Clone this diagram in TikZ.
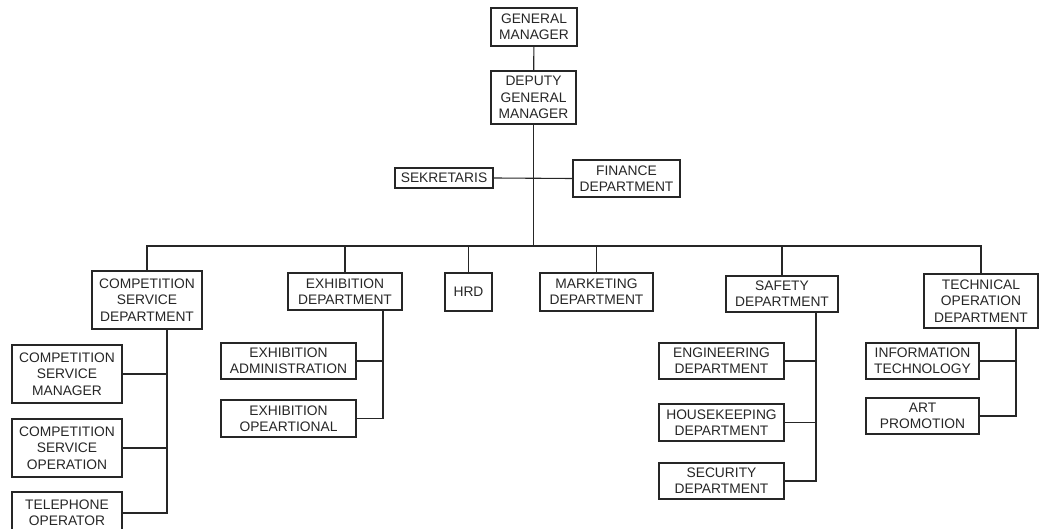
\documentclass[tikz,border=0pt]{standalone}
\usepackage{fontspec}
\setmainfont{Liberation Sans}
\begin{document}
\begin{tikzpicture}[x=1pt,y=-1pt,
  box/.style={draw=black!85, line width=1.1pt, rectangle, inner sep=0pt, align=center,
    text=black!85, font=\fontsize{13.8}{16.3}\selectfont},
  link/.style={draw=black!85, line width=1.1pt}]
\useasboundingbox (0,0) rectangle (1039,529);
% top
\node[box, minimum width=86, minimum height=38] (gm) at (534,27) {GENERAL\\MANAGER};
\node[box, minimum width=85, minimum height=53] (dgm) at (533.5,97.5) {DEPUTY\\GENERAL\\MANAGER};
\node[box, minimum width=98, minimum height=20] (sek) at (444,178) {SEKRETARIS};
\node[box, minimum width=107, minimum height=37] (fin) at (626.5,178.5) {FINANCE\\DEPARTMENT};
% second level
\node[box, minimum width=110, minimum height=58] (csd) at (147,300) {COMPETITION\\SERVICE\\DEPARTMENT};
\node[box, minimum width=114, minimum height=37] (ed) at (345,291.5) {EXHIBITION\\DEPARTMENT};
\node[box, minimum width=47, minimum height=38] (hrd) at (468.5,292) {HRD};
\node[box, minimum width=113, minimum height=38] (mkt) at (596.5,292) {MARKETING\\DEPARTMENT};
\node[box, minimum width=112, minimum height=36] (saf) at (782,294) {SAFETY\\DEPARTMENT};
\node[box, minimum width=114, minimum height=54] (tech) at (981,301) {TECHNICAL\\OPERATION\\DEPARTMENT};
% third level
\node[box, minimum width=110, minimum height=58] (csm) at (67,374) {COMPETITION\\SERVICE\\MANAGER};
\node[box, minimum width=110, minimum height=58] (cso) at (67,448) {COMPETITION\\SERVICE\\OPERATION};
\node[box, minimum width=110, minimum height=42] (tel) at (67,513) {TELEPHONE\\OPERATOR};
\node[box, minimum width=135, minimum height=36] (ea) at (288.5,361) {EXHIBITION\\ADMINISTRATION};
\node[box, minimum width=135, minimum height=37] (eo) at (288.5,418.5) {EXHIBITION\\OPEARTIONAL};
\node[box, minimum width=125, minimum height=36] (eng) at (721.5,361) {ENGINEERING\\DEPARTMENT};
\node[box, minimum width=125, minimum height=37] (hk) at (721.5,422.5) {HOUSEKEEPING\\DEPARTMENT};
\node[box, minimum width=125, minimum height=36] (sec) at (721.5,481) {SECURITY\\DEPARTMENT};
\node[box, minimum width=113, minimum height=36] (it) at (922.5,361) {INFORMATION\\TECHNOLOGY};
\node[box, minimum width=113, minimum height=36] (art) at (922.5,416) {ART\\PROMOTION};
% connectors
\coordinate (busc) at (533.5,246);
\draw[link] (gm) -- (dgm);
\draw[link] (dgm.south) -- (busc);
\draw[link] (sek.east) -- (fin.west);
\draw[link] (csd.north) -- (csd.north |- busc) -- (tech.north |- busc) -- (tech.north);
\foreach \n in {ed,hrd,mkt,saf} \draw[link] (\n.north) -- (\n.north |- busc);
% competition branch
\coordinate (cb) at ([xshift=20pt]csd.south);
\draw[link] (cb) |- (tel.east);
\draw[link] (csm.east) -- (csm.east -| cb);
\draw[link] (cso.east) -- (cso.east -| cb);
% exhibition branch
\coordinate (eb) at ([xshift=38pt]ed.south);
\draw[link] (eb) |- (eo.east);
\draw[link] (ea.east) -- (ea.east -| eb);
% safety branch
\coordinate (sb) at ([xshift=34pt]saf.south);
\draw[link] (sb) |- (sec.east);
\draw[link] (eng.east) -- (eng.east -| sb);
\draw[link] (hk.east) -- (hk.east -| sb);
% technical branch
\coordinate (tb) at ([xshift=35pt]tech.south);
\draw[link] (tb) |- (art.east);
\draw[link] (it.east) -- (it.east -| tb);
\end{tikzpicture}
\end{document}
